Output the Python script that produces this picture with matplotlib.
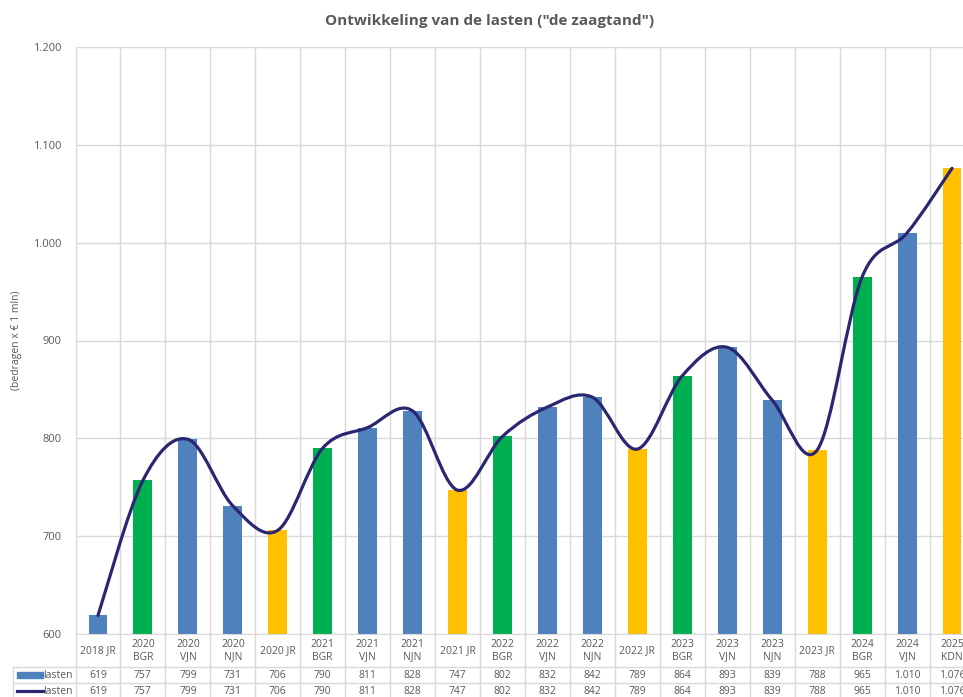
import numpy as np
import matplotlib
matplotlib.use('Agg')
import matplotlib.pyplot as plt
import matplotlib.ticker as ticker
import matplotlib.transforms as mtransforms
from matplotlib.path import Path
from matplotlib.patches import PathPatch, Rectangle
from matplotlib.lines import Line2D

# data
categories = ['2018 JR', '2020\nBGR', '2020\nVJN', '2020\nNJN', '2020 JR',
              '2021\nBGR', '2021\nVJN', '2021\nNJN', '2021 JR',
              '2022\nBGR', '2022\nVJN', '2022\nNJN', '2022 JR',
              '2023\nBGR', '2023\nVJN', '2023\nNJN', '2023 JR',
              '2024\nBGR', '2024\nVJN', '2025\nKDN']
lasten = [619, 757, 799, 731, 706, 790, 811, 828, 747, 802, 832, 842, 789,
          864, 893, 839, 788, 965, 1010, 1076]
kind = ['VJN', 'BGR', 'VJN', 'VJN', 'JR', 'BGR', 'VJN', 'VJN', 'JR',
        'BGR', 'VJN', 'VJN', 'JR', 'BGR', 'VJN', 'VJN', 'JR', 'BGR', 'VJN', 'JR']
y_ticks = [600, 700, 800, 900, 1000, 1100, 1200]

kleur = {'VJN': '#4F81BD', 'BGR': '#00B050', 'JR': '#FFC000'}
lijn_kleur = '#2A2672'
grijs = '#595959'
rand = '#D9D9D9'

plt.rcParams['font.family'] = ['Open Sans', 'DejaVu Sans']

W, H = 963, 697
fig = plt.figure(figsize=(W / 100, H / 100), dpi=100)


def fy(ypix):
    return 1 - ypix / H


left, right, top, bottom = 75.5, 974.5, 47, 634
ax = fig.add_axes([left / W, fy(bottom), (right - left) / W, (bottom - top) / H])

x = np.arange(len(categories))
ax.bar(x, lasten, width=0.42, color=[kleur[k] for k in kind], zorder=2)

# gladde lijn (Bezier, zoals Excel)
pts = np.column_stack([x, lasten]).astype(float)
verts = [pts[0]]
codes = [Path.MOVETO]
n = len(pts)
for i in range(n - 1):
    p0 = pts[max(i - 1, 0)]
    p1 = pts[i]
    p2 = pts[i + 1]
    p3 = pts[min(i + 2, n - 1)]
    c1 = p1 + (p2 - p0) / 6
    c2 = p2 - (p3 - p1) / 6
    verts += [c1, c2, p2]
    codes += [Path.CURVE4] * 3
ax.add_patch(PathPatch(Path(verts, codes), facecolor='none', edgecolor=lijn_kleur,
                       lw=2.3, zorder=3, capstyle='round'))

ax.set_xlim(-0.5, len(categories) - 0.5)
ax.set_ylim(600, 1200)
ax.set_yticks(y_ticks)
ax.yaxis.set_major_formatter(ticker.FuncFormatter(lambda v, p: f'{int(v):,}'.replace(',', '.')))
ax.set_xticks(np.arange(len(categories) + 1) - 0.5)
ax.set_xticklabels([])
ax.tick_params(axis='both', length=0, labelsize=8, labelcolor=grijs, pad=10)
ax.grid(True, color=rand, lw=1, zorder=0)
for s in ['top', 'right']:
    ax.spines[s].set_visible(False)
ax.spines['left'].set_color(rand)
ax.spines['bottom'].set_color(rand)

fig.text(17 / W, fy(340), '(bedragen x € 1 mln)', rotation=90, ha='center', va='center',
         fontsize=7.5, color=grijs)
fig.text(490 / W, fy(21), 'Ontwikkeling van de lasten ("de zaagtand")', ha='center', va='center',
         fontsize=11, fontweight='bold', color=grijs)

# datatabel
tr = mtransforms.blended_transform_factory(ax.transData, fig.transFigure)
for xb in np.arange(len(categories) + 1) - 0.5:
    ax.add_line(Line2D([xb, xb], [fy(634), fy(697)], transform=tr, color=rand, lw=1, clip_on=False))
for yb in [667, 683]:
    fig.add_artist(Line2D([13 / W, 1], [fy(yb), fy(yb)], color=rand, lw=1))
fig.add_artist(Line2D([13 / W, 13 / W], [fy(667), fy(697)], color=rand, lw=1))

fmt = lambda v: f'{v:,}'.replace(',', '.')
for i, c in enumerate(categories):
    ax.text(i, fy(651), c, transform=tr, ha='center', va='center', fontsize=7.5,
            color=grijs, linespacing=1.15, clip_on=False)
    ax.text(i, fy(675), fmt(lasten[i]), transform=tr, ha='center', va='center',
            fontsize=7.5, color=grijs, clip_on=False)
    ax.text(i, fy(691), fmt(lasten[i]), transform=tr, ha='center', va='center',
            fontsize=7.5, color=grijs, clip_on=False)

fig.add_artist(Rectangle((17 / W, fy(678)), 26 / W, 6 / H, color=kleur['VJN']))
fig.add_artist(Line2D([17 / W, 43 / W], [fy(691), fy(691)], color=lijn_kleur, lw=2.3))
fig.text(73 / W, fy(675), 'lasten', ha='right', va='center', fontsize=7.5, color=grijs)
fig.text(73 / W, fy(691), 'lasten', ha='right', va='center', fontsize=7.5, color=grijs)

fig.savefig('out.png', dpi=100)
